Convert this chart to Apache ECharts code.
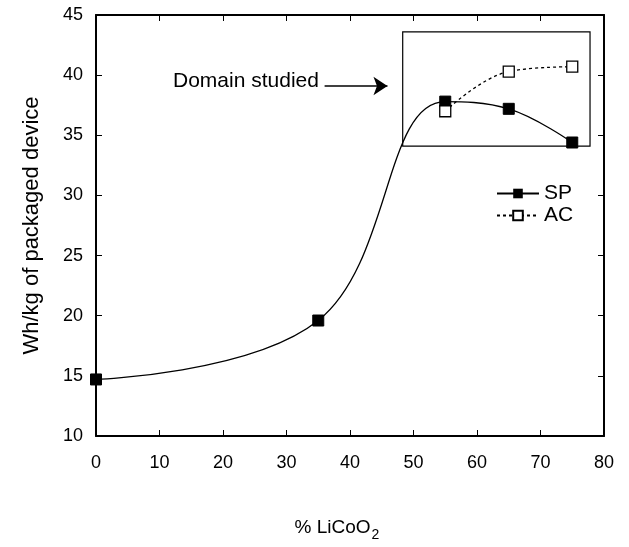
<!DOCTYPE html>
<html style="height: 100%">
<head>
    <meta charset="utf-8">
</head>
<body style="height: 100%; margin: 0; background: #fff">
<div id="container" style="width: 629px; height: 547px"></div>
<script src="https://cdn.jsdelivr.net/npm/echarts@6/dist/echarts.min.js"></script>
<script type="text/javascript">
    var dom = document.getElementById("container");
    var myChart = echarts.init(dom);

    // % LiCoO2 vs Wh/kg
    const spX = [0, 35, 55, 65, 75];
    const spY = [14.7, 19.6, 37.8, 37.2, 34.4];
    const acX = [55, 65, 75];
    const acY = [37.0, 40.3, 40.7];

    // inset box and arrow (data coords)
    const boxCorners = [[48.3, 43.6], [77.8, 34.1]];
    const arrowFrom = [36.0, 39.1];
    const arrowTo = [45.9, 39.1];

    const font = "'Liberation Sans', Arial, sans-serif";

    function pairs(xs, ys) {
        return xs.map(function (x, i) { return [x, ys[i]]; });
    }

    // ticks pointing into the plot
    function tick(len) {
        return { show: true, inside: true, length: len, lineStyle: { color: '#000', width: 1 } };
    }

    var option = {
        animation: false,
        backgroundColor: '#fff',
        textStyle: { fontFamily: font },
        grid: { left: 96, right: 25, top: 15, bottom: 108 },
        legend: {
            left: 491,
            top: 178,
            orient: 'vertical',
            itemWidth: 42,
            itemHeight: 12,
            itemGap: 1,
            textStyle: { fontFamily: font, fontSize: 21, color: '#000' },
            data: ['SP', 'AC']
        },
        xAxis: [{
            type: 'value',
            min: 0, max: 80, interval: 10,
            name: '{a|% LiCoO}{s|2}',
            nameLocation: 'middle',
            nameGap: 78,
            nameTextStyle: {
                padding: [0, 26, 0, 0],
                rich: {
                    a: { fontFamily: font, fontSize: 19, color: '#000' },
                    s: { fontFamily: font, fontSize: 14, color: '#000', padding: [14, 0, 0, 1] }
                }
            },
            axisLine: { lineStyle: { color: '#000', width: 2 } },
            axisTick: tick(6),
            axisLabel: { fontFamily: font, fontSize: 18, color: '#000', margin: 18 },
            splitLine: { show: false }
        }, {
            type: 'value', position: 'top',
            min: 0, max: 80, interval: 10,
            axisLine: { show: true, lineStyle: { color: '#000', width: 2 } },
            axisTick: tick(6),
            axisLabel: { show: false },
            splitLine: { show: false }
        }],
        yAxis: [{
            type: 'value',
            min: 10, max: 45, interval: 5,
            name: 'Wh/kg of packaged device',
            nameLocation: 'middle',
            nameGap: 53,
            nameTextStyle: { fontFamily: font, fontSize: 22, color: '#000' },
            axisLine: { show: true, lineStyle: { color: '#000', width: 2 } },
            axisTick: tick(6),
            axisLabel: { fontFamily: font, fontSize: 18, color: '#000', margin: 13 },
            splitLine: { show: false }
        }, {
            // mirror axis, same scale; AC is bound to it so it lays out on the right
            type: 'value', position: 'right',
            min: 10, max: 45, interval: 5,
            axisLine: { show: true, onZero: false, lineStyle: { color: '#000', width: 2 } },
            axisTick: tick(6),
            axisLabel: { show: false },
            splitLine: { show: false }
        }],
        series: [{
            name: 'SP',
            type: 'line',
            data: pairs(spX, spY),
            smooth: 0.4,
            symbol: 'rect',
            symbolSize: 11,
            itemStyle: { color: '#000', borderColor: '#000' },
            lineStyle: { color: '#000', width: 1.3 },
            z: 3,
            markArea: {
                silent: true,
                itemStyle: { color: 'rgba(0,0,0,0)', borderColor: '#000', borderWidth: 1.2 },
                data: [[
                    { xAxis: boxCorners[0][0], yAxis: boxCorners[0][1] },
                    { xAxis: boxCorners[1][0], yAxis: boxCorners[1][1] }
                ]]
            },
            markLine: {
                silent: true,
                symbol: ['none', 'arrow'],
                symbolSize: 14,
                label: { show: false },
                itemStyle: { color: '#000' },
                lineStyle: { color: '#000', type: 'solid', width: 1.6 },
                data: [[
                    { coord: arrowFrom },
                    { coord: arrowTo }
                ]]
            }
        }, {
            name: 'AC',
            type: 'line',
            yAxisIndex: 1,
            data: pairs(acX, acY),
            smooth: 0.4,
            symbol: 'rect',
            symbolSize: 11,
            itemStyle: { color: '#fff', borderColor: '#000', borderWidth: 1.3 },
            lineStyle: { color: '#000', width: 1.3, type: [3, 3] },
            z: 4
        }],
        graphic: [{
            type: 'text',
            left: 173,
            top: 71,
            style: { text: 'Domain studied', font: '21px ' + font, fill: '#000' }
        }]
    };

    myChart.setOption(option);
</script>
</body>
</html>
